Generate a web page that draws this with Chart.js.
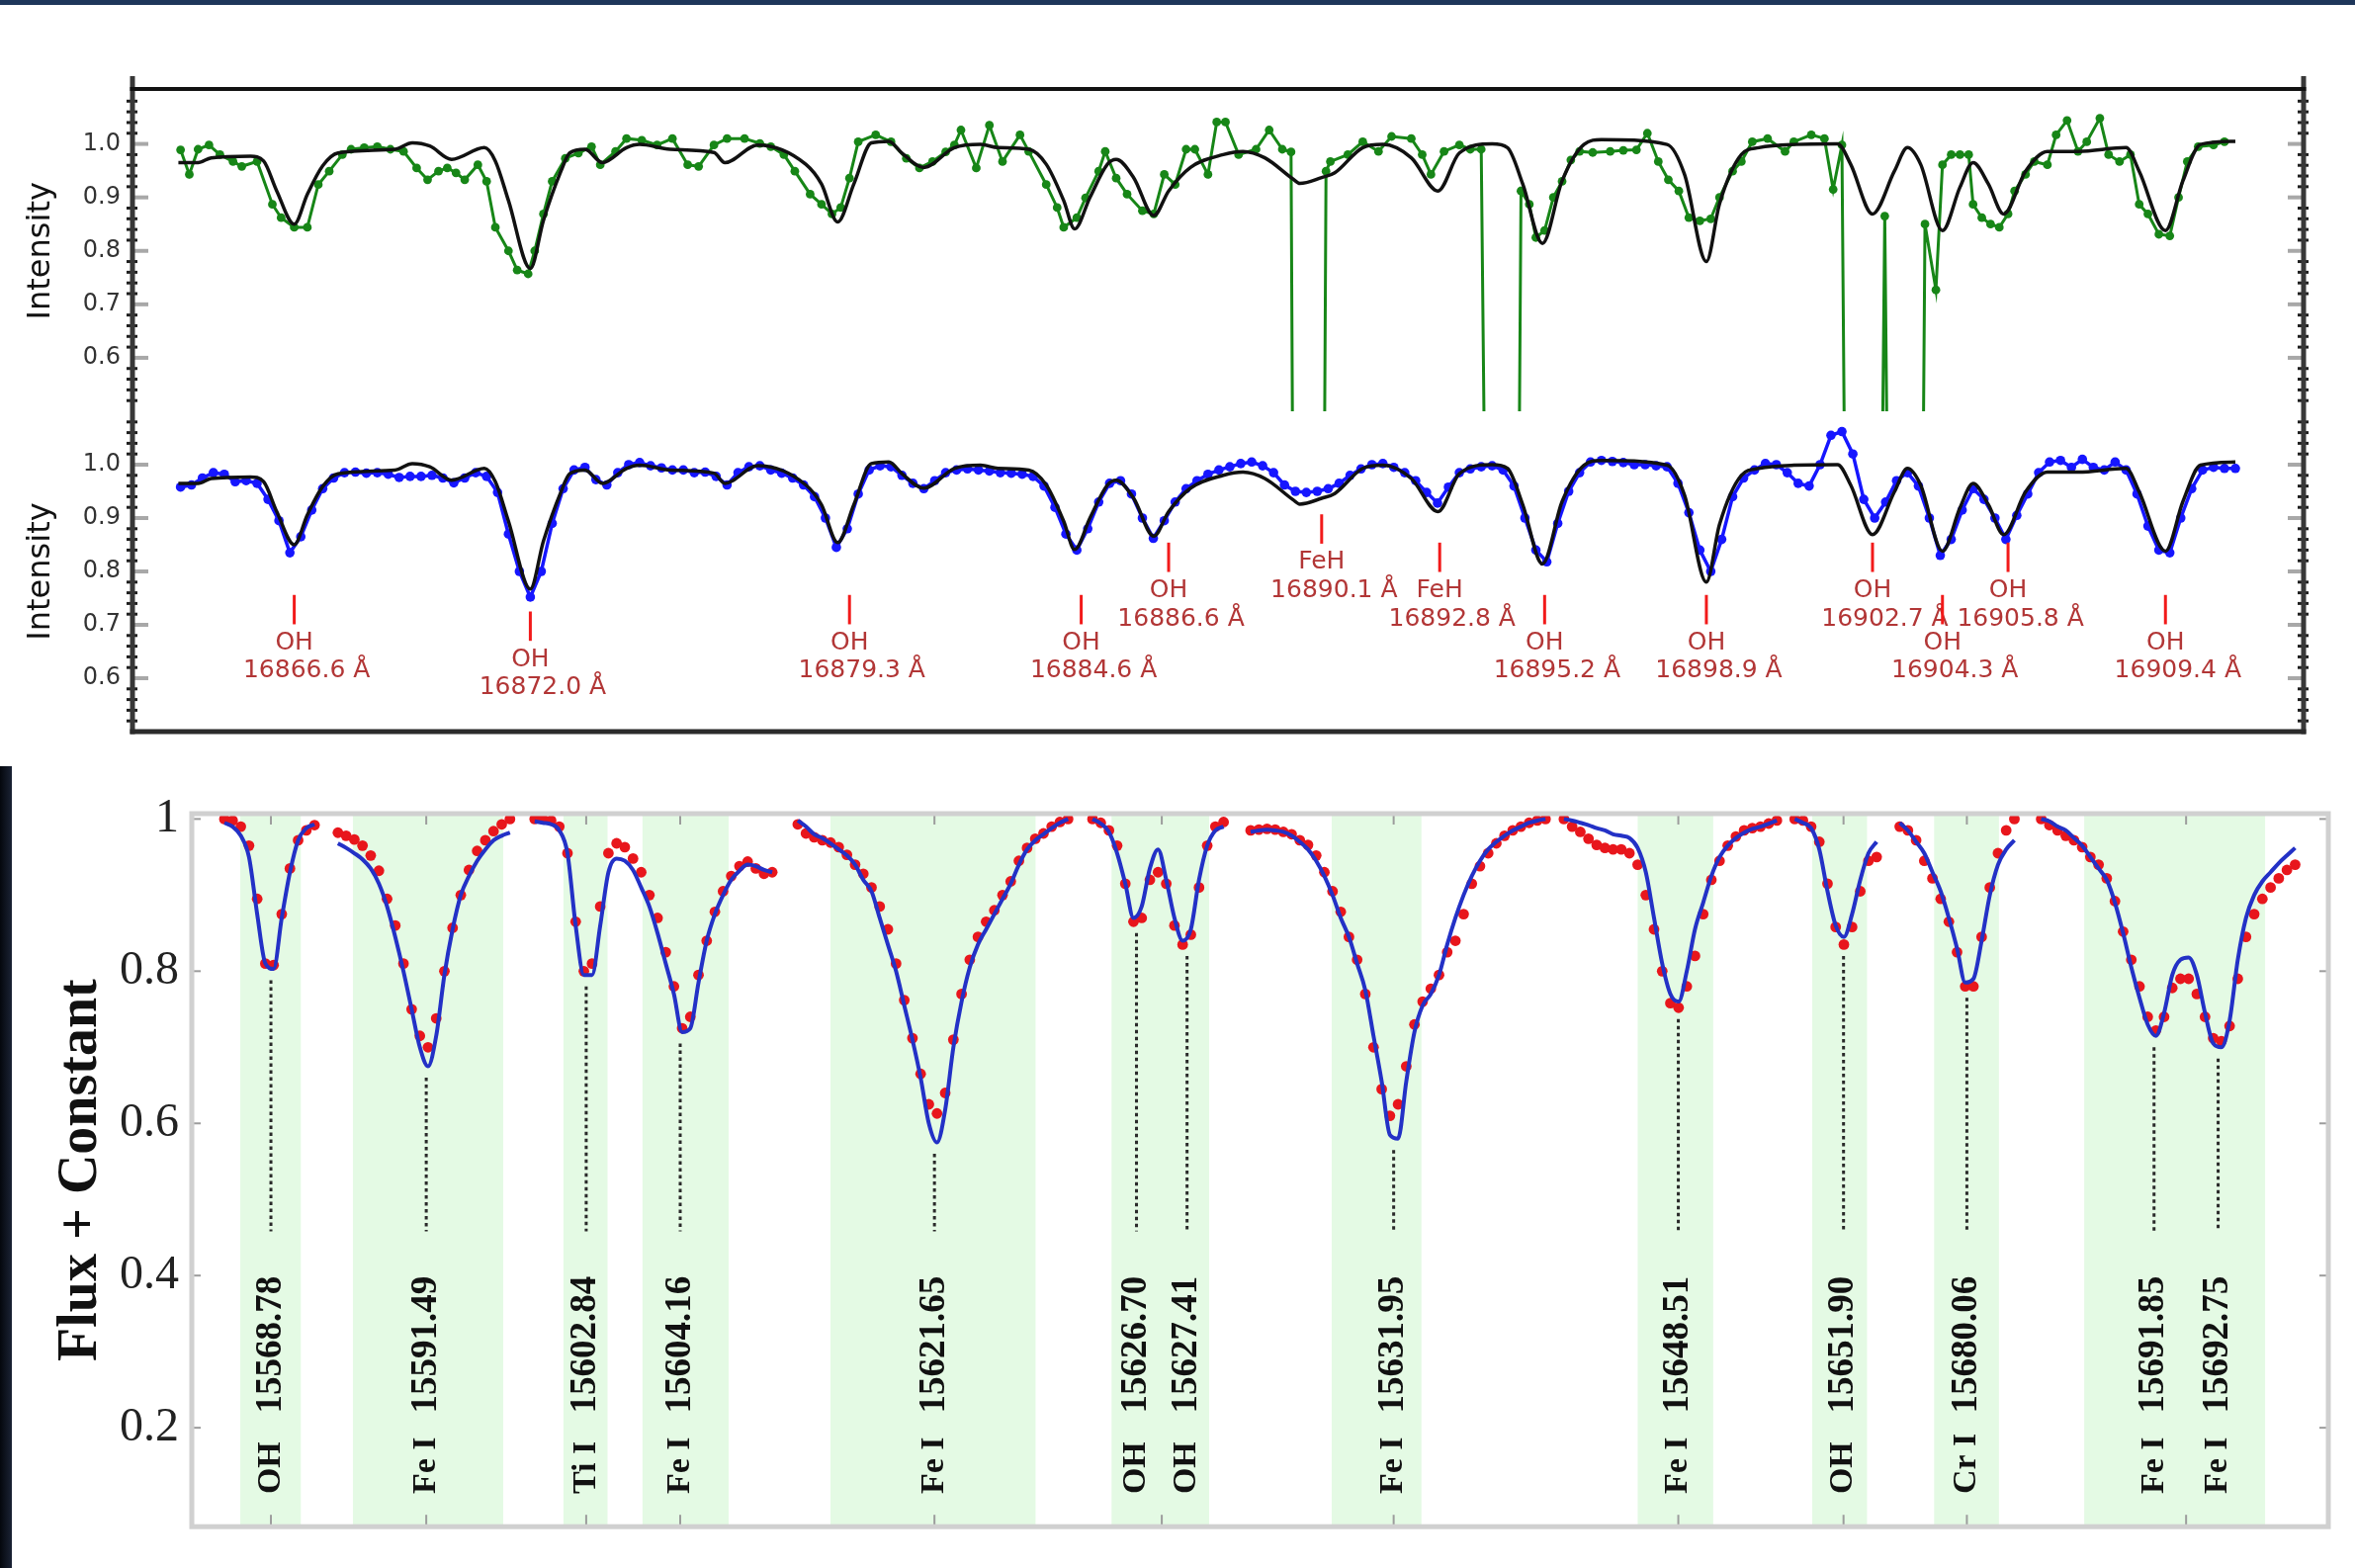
<!DOCTYPE html>
<html>
<head>
<meta charset="utf-8">
<script src="https://cdn.jsdelivr.net/npm/chart.js@4.4.1/dist/chart.umd.min.js"></script>
<style>
  html, body { margin: 0; padding: 0; background: #fff; }
  #page { position: relative; width: 2382px; height: 1586px; overflow: hidden; background: #fff; }
  #page canvas { position: absolute; left: 0; top: 0; }
  .topband { position: absolute; left: 0; top: 0; width: 2382px; height: 5px; background: #1e365a; }
  .edge { position: absolute; left: 0; top: 775px; width: 12px; height: 811px; background: linear-gradient(90deg, #04070d, #1b2335); }
</style>
</head>
<body>
<div id="page">
  <div class="topband"></div>
  <div class="edge"></div>
  <canvas id="upper" width="2382" height="1586"></canvas>
  <canvas id="lower" width="2382" height="1586"></canvas>
  <canvas id="windows" width="2382" height="1586"></canvas>
</div>
<script>
// ================= 16864–16911 Å spectra =================
// synthetic fit shown in both upper panels: [wavelength Å, intensity]
const modelPoints = [
  [16863.95,0.965],[16864.4,0.965],[16864.7,0.974],[16865.6,0.977],[16865.9,0.968],[16866.2,0.912],
  [16866.6,0.85],[16866.9,0.906],[16867.25,0.959],[16867.6,0.983],[16868.9,0.99],[16869.3,1.002],
  [16869.7,0.996],[16870.2,0.971],[16870.95,0.993],[16871.2,0.968],[16871.5,0.894],[16872.0,0.767],
  [16872.3,0.857],[16872.7,0.949],[16872.9,0.983],[16873.25,0.99],[16873.65,0.965],[16874.2,0.993],
  [16874.5,0.999],[16875.2,0.99],[16876.2,0.984],[16876.45,0.965],[16877.2,0.998],[16878.3,0.962],
  [16878.66,0.925],[16879.03,0.854],[16879.4,0.925],[16879.8,1.002],[16880.2,1.005],[16880.5,0.983],
  [16881.0,0.956],[16881.7,0.993],[16882.3,0.999],[16882.7,0.993],[16883.4,0.99],[16883.8,0.962],
  [16884.2,0.894],[16884.45,0.841],[16884.8,0.9],[16885.2,0.962],[16885.4,0.971],[16885.8,0.937],
  [16886.26,0.866],[16886.6,0.912],[16887.1,0.956],[16887.85,0.98],[16888.3,0.986],[16888.8,0.974],
  [16889.45,0.934],[16889.6,0.926],[16890.1,0.937],[16890.4,0.946],[16891.04,0.993],[16891.5,0.999],
  [16892.15,0.974],[16892.76,0.912],[16893.25,0.983],[16894.0,1.0],[16894.35,0.993],[16894.7,0.925],
  [16895.15,0.814],[16895.6,0.931],[16896.1,0.999],[16896.5,1.008],[16898.0,0.999],[16898.4,0.943],
  [16898.9,0.78],[16899.2,0.888],[16899.7,0.98],[16900.1,0.993],[16900.9,0.999],[16901.9,1.0],
  [16902.2,0.962],[16902.7,0.869],[16903.2,0.949],[16903.5,0.993],[16903.8,0.962],[16904.3,0.838],
  [16904.7,0.919],[16905.0,0.965],[16905.35,0.925],[16905.7,0.869],[16906.2,0.949],[16906.7,0.986],
  [16907.4,0.986],[16908.5,0.993],[16908.8,0.949],[16909.4,0.838],[16909.8,0.931],[16910.2,0.999],
  [16911.0,1.005]
];

// observed spectrum, upper panel (the 0.2 entries are bad pixels that drop off the panel)
const greenPoints = [
  [16864.0,0.989],[16864.2,0.943],[16864.4,0.99],[16864.65,0.998],[16864.9,0.98],[16865.2,0.967],
  [16865.4,0.958],[16865.75,0.967],[16866.1,0.887],[16866.3,0.862],[16866.6,0.844],[16866.9,0.844],
  [16867.15,0.924],[16867.4,0.949],[16867.7,0.98],[16867.9,0.99],[16868.2,0.993],[16868.5,0.995],
  [16868.8,0.99],[16869.1,0.986],[16869.4,0.955],[16869.65,0.933],[16869.9,0.949],[16870.1,0.955],
  [16870.3,0.946],[16870.5,0.933],[16870.8,0.961],[16871.0,0.93],[16871.2,0.844],[16871.5,0.8],
  [16871.7,0.764],[16871.95,0.757],[16872.1,0.8],[16872.3,0.869],[16872.5,0.93],[16872.8,0.973],
  [16873.1,0.983],[16873.4,0.995],[16873.6,0.961],[16873.95,0.986],[16874.2,1.01],[16874.55,1.007],
  [16874.9,0.998],[16875.25,1.01],[16875.6,0.961],[16875.85,0.958],[16876.2,0.998],[16876.5,1.01],
  [16876.9,1.01],[16877.25,1.001],[16877.5,0.995],[16877.8,0.98],[16878.05,0.949],[16878.4,0.906],
  [16878.66,0.887],[16878.9,0.869],[16879.1,0.881],[16879.3,0.936],[16879.5,1.004],[16879.9,1.017],
  [16880.25,1.004],[16880.6,0.973],[16880.9,0.955],[16881.2,0.967],[16881.5,0.985],[16881.7,0.998],
  [16881.85,1.026],[16882.2,0.955],[16882.5,1.035],[16882.8,0.967],[16883.2,1.017],[16883.4,0.986],
  [16883.8,0.924],[16884.05,0.881],[16884.2,0.844],[16884.5,0.862],[16884.7,0.899],[16885.0,0.949],
  [16885.15,0.986],[16885.4,0.936],[16885.65,0.906],[16886.0,0.875],[16886.26,0.869],[16886.5,0.943],
  [16886.75,0.924],[16887.0,0.99],[16887.2,0.99],[16887.5,0.943],[16887.7,1.041],[16887.9,1.041],
  [16888.2,0.98],[16888.6,0.99],[16888.9,1.026],[16889.2,0.99],[16889.4,0.985],[16889.45,0.2],
  [16890.15,0.2],[16890.2,0.949],[16890.3,0.967],[16890.7,0.98],[16891.04,1.004],[16891.4,0.986],
  [16891.7,1.014],[16892.15,1.01],[16892.4,0.98],[16892.6,0.943],[16892.9,0.986],[16893.25,0.998],
  [16893.5,0.99],[16893.75,0.99],[16893.85,0.2],[16894.6,0.2],[16894.66,0.912],[16894.85,0.887],
  [16895.0,0.825],[16895.2,0.838],[16895.4,0.9],[16895.6,0.93],[16895.8,0.97],[16896.0,0.986],
  [16896.3,0.984],[16896.7,0.986],[16897.0,0.988],[16897.3,0.989],[16897.55,1.02],[16897.8,0.967],
  [16898.03,0.933],[16898.27,0.912],[16898.5,0.862],[16898.75,0.856],[16899.0,0.86],[16899.2,0.9],
  [16899.5,0.949],[16899.7,0.967],[16899.95,1.004],[16900.3,1.01],[16900.7,0.986],[16900.9,1.004],
  [16901.3,1.017],[16901.6,1.01],[16901.8,0.915],[16902.0,0.998],[16902.08,0.2],[16902.9,0.2],
  [16902.98,0.865],[16903.06,0.2],[16903.84,0.2],[16903.9,0.85],[16904.15,0.727],[16904.3,0.961],
  [16904.5,0.98],[16904.7,0.98],[16904.9,0.98],[16905.0,0.887],[16905.2,0.862],[16905.4,0.85],
  [16905.6,0.844],[16905.8,0.869],[16905.95,0.912],[16906.2,0.943],[16906.4,0.967],[16906.7,0.961],
  [16906.9,1.017],[16907.15,1.044],[16907.4,0.986],[16907.6,1.004],[16907.9,1.048],[16908.1,0.98],
  [16908.35,0.967],[16908.6,0.98],[16908.8,0.887],[16909.0,0.869],[16909.25,0.831],[16909.5,0.828],
  [16909.7,0.9],[16909.9,0.967],[16910.15,0.995],[16910.5,0.998],[16910.75,1.004]
];

// observed spectrum, lower panel: pixels every 0.25 Å from 16864.00 Å
const blueStart = 16864.0;
const blueStep = 0.25;
const blueFlux = [
  0.958,0.962,0.975,0.985,0.982,0.968,0.97,0.965,
  0.935,0.895,0.835,0.865,0.915,0.955,0.975,0.985,
  0.986,0.984,0.985,0.982,0.976,0.978,0.978,0.98,
  0.975,0.966,0.975,0.985,0.978,0.948,0.87,0.8,
  0.752,0.8,0.89,0.955,0.99,0.995,0.972,0.962,
  0.985,1.0,1.004,0.998,0.994,0.99,0.99,0.985,
  0.986,0.978,0.962,0.985,0.996,0.998,0.99,0.984,
  0.975,0.962,0.94,0.9,0.845,0.88,0.945,0.99,
  0.998,0.996,0.98,0.965,0.955,0.97,0.985,0.99,
  0.992,0.99,0.988,0.985,0.984,0.982,0.978,0.96,
  0.92,0.87,0.84,0.88,0.93,0.965,0.97,0.945,
  0.9,0.862,0.895,0.93,0.955,0.97,0.982,0.99,
  0.996,1.002,1.005,0.998,0.985,0.962,0.95,0.948,
  0.95,0.955,0.965,0.98,0.992,1.0,1.002,0.995,
  0.985,0.97,0.948,0.928,0.958,0.985,0.992,0.996,
  0.998,0.99,0.96,0.9,0.84,0.818,0.89,0.95,
  0.985,1.005,1.008,1.006,1.004,1.0,1.0,0.998,
  0.996,0.965,0.91,0.84,0.80,0.86,0.94,0.975,
  0.99,1.002,1.0,0.985,0.965,0.96,1.0,1.055,
  1.062,1.02,0.935,0.9,0.93,0.97,0.985,0.96,
  0.9,0.83,0.86,0.915,0.955,0.935,0.9,0.86,
  0.905,0.945,0.985,1.005,1.008,0.995,1.01,0.995,
  0.99,1.005,0.99,0.945,0.885,0.84,0.835,0.9,
  0.955,0.99,0.995,0.993,0.993
];

// identified lines in the lower panel
const idWave = [16866.6, 16872.0, 16879.3, 16884.6, 16886.6, 16890.1, 16892.8, 16895.2, 16898.9, 16902.7, 16904.3, 16905.8, 16909.4];
const idSpecies = ['OH', 'OH', 'OH', 'OH', 'OH', 'FeH', 'FeH', 'OH', 'OH', 'OH', 'OH', 'OH', 'OH'];
// intensity at which each marker starts (label rows are staggered)
const idMarkerTop = [0.756, 0.725, 0.756, 0.756, 0.854, 0.907, 0.854, 0.756, 0.756, 0.854, 0.756, 0.854, 0.756];
const intensityTicks = [0.6, 0.7, 0.8, 0.9, 1.0];

// ================= spectral windows, 15568–15694 Å =================
const winWaveStart = [15568.127, 15590.250, 15602.117, 15619.731, 15626.083, 15629.942, 15646.904, 15651.215, 15679.117, 15690.266];
const winAxisStart = [0.458, 2.052, 4.815, 8.509, 12.648, 14.868, 19.267, 22.508, 23.982, 25.969];
const winStep = 0.115;
// observed flux (red points) per window
const obsFlux = [
  [1.0,0.998,0.99,0.965,0.895,0.81,0.808,0.875,0.935,0.972,0.985,0.992],
  [0.982,0.978,0.973,0.965,0.952,0.932,0.895,0.86,0.81,0.75,0.715,0.70,0.738,0.8,0.857,0.9,0.933,0.958,0.972,0.984,0.993,1.0],
  [1.0,1.0,0.998,0.99,0.955,0.865,0.80,0.81,0.885,0.955,0.968,0.963,0.948,0.93,0.9,0.87,0.825,0.78,0.725,0.74,0.795,0.84,0.878,0.905,0.925,0.938,0.944,0.935,0.928,0.93],
  [0.993,0.981,0.976,0.972,0.969,0.963,0.953,0.94,0.928,0.91,0.885,0.855,0.81,0.762,0.712,0.665,0.625,0.613,0.64,0.71,0.77,0.815,0.845,0.865,0.88,0.9,0.918,0.945,0.962,0.974,0.981,0.99,0.996,1.0],
  [1.0,0.995,0.985,0.965,0.915,0.865,0.87,0.92,0.93,0.915,0.86,0.835,0.848,0.91,0.965,0.99,0.996],
  [0.985,0.986,0.987,0.986,0.983,0.98,0.972,0.966,0.952,0.93,0.905,0.878,0.845,0.815,0.77,0.7,0.645,0.61,0.625,0.675,0.73,0.76,0.777,0.795,0.825,0.84,0.875,0.915,0.938,0.955,0.968,0.978,0.985,0.99,0.995,0.998,1.0],
  [1.0,0.99,0.983,0.974,0.966,0.962,0.96,0.96,0.955,0.94,0.9,0.855,0.8,0.758,0.752,0.78,0.82,0.875,0.92,0.945,0.965,0.977,0.985,0.988,0.99,0.994,0.998],
  [1.0,0.998,0.99,0.97,0.915,0.858,0.835,0.858,0.905,0.945,0.95],
  [0.99,0.985,0.972,0.945,0.922,0.895,0.865,0.825,0.78,0.78,0.845,0.91,0.955,0.985,1.0],
  [1.0,0.992,0.985,0.978,0.972,0.963,0.95,0.94,0.922,0.892,0.852,0.815,0.78,0.74,0.722,0.74,0.778,0.79,0.79,0.77,0.74,0.712,0.708,0.728,0.79,0.845,0.875,0.895,0.91,0.922,0.933,0.94]
];
// best-fit synthetic flux (blue curve) per window
const fitFlux = [
  [0.995,0.99,0.978,0.95,0.875,0.81,0.803,0.87,0.93,0.972,0.988,0.993],
  [0.968,0.962,0.955,0.947,0.935,0.915,0.885,0.845,0.80,0.75,0.70,0.675,0.715,0.795,0.855,0.9,0.925,0.945,0.96,0.972,0.978,0.982],
  [0.997,0.995,0.993,0.985,0.955,0.86,0.795,0.795,0.86,0.93,0.948,0.945,0.933,0.91,0.885,0.85,0.81,0.77,0.72,0.725,0.785,0.84,0.875,0.9,0.92,0.932,0.94,0.938,0.933,0.93],
  [0.998,0.99,0.98,0.975,0.968,0.96,0.952,0.94,0.92,0.905,0.87,0.835,0.8,0.755,0.71,0.66,0.6,0.575,0.618,0.7,0.76,0.805,0.835,0.855,0.875,0.895,0.915,0.94,0.96,0.972,0.98,0.988,0.995,1.0],
  [1.0,0.994,0.983,0.955,0.915,0.87,0.885,0.935,0.96,0.92,0.87,0.84,0.855,0.92,0.965,0.985,0.99],
  [0.983,0.985,0.986,0.985,0.983,0.978,0.97,0.96,0.945,0.925,0.9,0.87,0.845,0.81,0.775,0.715,0.655,0.585,0.58,0.655,0.72,0.755,0.77,0.795,0.835,0.87,0.9,0.925,0.945,0.96,0.97,0.978,0.985,0.99,0.995,0.998,1.0],
  [1.0,0.998,0.995,0.992,0.988,0.985,0.98,0.978,0.975,0.962,0.93,0.87,0.81,0.77,0.76,0.8,0.855,0.89,0.925,0.95,0.965,0.975,0.982,0.987,0.99,0.994,0.998],
  [1.0,0.995,0.988,0.96,0.905,0.86,0.845,0.875,0.92,0.955,0.97],
  [0.995,0.985,0.97,0.955,0.93,0.905,0.87,0.83,0.785,0.79,0.84,0.9,0.94,0.96,0.972],
  [1.0,0.997,0.99,0.985,0.975,0.965,0.95,0.935,0.92,0.89,0.85,0.805,0.765,0.73,0.715,0.745,0.795,0.815,0.818,0.795,0.745,0.705,0.7,0.735,0.815,0.87,0.9,0.918,0.93,0.942,0.952,0.962]
];
const lineWave = [15568.78, 15591.49, 15602.84, 15604.16, 15621.65, 15626.70, 15627.41, 15631.95, 15648.51, 15651.90, 15680.06, 15691.85, 15692.75];
const lineSpecies = ['OH', 'Fe I', 'Ti I', 'Fe I', 'Fe I', 'OH', 'OH', 'Fe I', 'Fe I', 'OH', 'Cr I', 'Fe I', 'Fe I'];
const lineWindow = [0, 1, 2, 2, 3, 4, 4, 5, 6, 7, 8, 9, 9];
// fitting masks (shaded), wavelength ranges inside each window
const maskWindow = [0, 1, 2, 2, 3, 4, 5, 6, 7, 8, 9];
const maskStart = [15568.35, 15590.46, 15602.52, 15603.63, 15620.19, 15626.35, 15631.08, 15647.94, 15651.46, 15679.60, 15690.87];
const maskEnd   = [15569.20, 15592.57, 15603.14, 15604.84, 15623.07, 15627.72, 15632.34, 15649.00, 15652.23, 15680.51, 15693.41];
const fluxTicks = [0.2, 0.4, 0.6, 0.8, 1];

// ================= drawing =================
const W = 2382, H = 1586;
const AX_L = 134, AX_R = 2330;           // spines of the two stacked panels
const toAxis = (w, lam) => winAxisStart[w] + (lam - winWaveStart[w]);

function spines(chart, spineTop, withTopLine, withBottomLine) {
  const { ctx, chartArea: a, scales: { y } } = chart;
  ctx.save();
  ctx.lineCap = 'butt';
  // major ticks (inward, grey)
  ctx.strokeStyle = '#a8a8a8'; ctx.lineWidth = 4;
  intensityTicks.forEach(v => {
    const py = y.getPixelForValue(v);
    ctx.beginPath(); ctx.moveTo(AX_L + 2, py); ctx.lineTo(AX_L + 16, py); ctx.stroke();
    ctx.beginPath(); ctx.moveTo(AX_R - 16, py); ctx.lineTo(AX_R - 2, py); ctx.stroke();
  });
  // minor ticks every 0.02
  ctx.strokeStyle = '#1e1e1e'; ctx.lineWidth = 3;
  for (let k = 26; k <= 54; k++) {
    if (k % 5 === 0) continue;
    const py = y.getPixelForValue(k * 0.02);
    ctx.beginPath(); ctx.moveTo(AX_L - 6, py); ctx.lineTo(AX_L + 5, py); ctx.stroke();
    ctx.beginPath(); ctx.moveTo(AX_R - 6, py); ctx.lineTo(AX_R + 5, py); ctx.stroke();
  }
  // spines
  ctx.strokeStyle = '#383838'; ctx.lineWidth = 5;
  const yb = withBottomLine ? a.bottom + 2.5 : a.bottom;
  ctx.beginPath(); ctx.moveTo(AX_L, spineTop); ctx.lineTo(AX_L, yb); ctx.stroke();
  ctx.beginPath(); ctx.moveTo(AX_R, spineTop); ctx.lineTo(AX_R, yb); ctx.stroke();
  if (withTopLine) {
    ctx.strokeStyle = '#111'; ctx.lineWidth = 4;
    ctx.beginPath(); ctx.moveTo(AX_L - 2.5, a.top - 1.5); ctx.lineTo(AX_R + 2.5, a.top - 1.5); ctx.stroke();
  }
  if (withBottomLine) {
    ctx.strokeStyle = '#2b2b2b'; ctx.lineWidth = 5;
    ctx.beginPath(); ctx.moveTo(AX_L - 2.5, a.bottom); ctx.lineTo(AX_R + 2.5, a.bottom); ctx.stroke();
  }
  ctx.restore();
}

function intensityScales(titleText) {
  return {
    x: { type: 'linear', min: 16862.9, max: 16912.56, display: false },
    y: {
      min: 0.5, max: 1.1,
      afterFit: s => { s.width = AX_L; },
      afterBuildTicks: s => { s.ticks = intensityTicks.map(v => ({ value: v })); },
      grid: { display: false, drawTicks: false },
      border: { display: false },
      ticks: { padding: 12, color: '#333', font: { family: 'DejaVu Sans', size: 24 }, callback: v => Number(v).toFixed(1) },
      title: { display: true, text: titleText, color: '#111', font: { family: 'DejaVu Sans', size: 32 }, padding: { top: 22, bottom: 0 } }
    }
  };
}

const modelData = modelPoints.map(([x, y]) => ({ x, y }));
const baseOpts = { responsive: false, animation: false, events: [], plugins: { legend: { display: false }, tooltip: { enabled: false } } };

// upper panel
new Chart(document.getElementById('upper'), {
  type: 'line',
  data: { datasets: [
    { data: modelData, borderColor: '#111', borderWidth: 3.5, pointRadius: 0, cubicInterpolationMode: 'monotone', order: 0 },
    { data: greenPoints.map(([x, y]) => ({ x, y })), borderColor: '#178617', borderWidth: 3,
      pointRadius: 4.4, pointBackgroundColor: '#178617', pointBorderWidth: 0, order: 1 }
  ] },
  options: Object.assign({}, baseOpts, {
    layout: { padding: { left: 0, right: W - AX_R, top: 91.5, bottom: H - 416 } },
    scales: intensityScales('Intensity')
  }),
  plugins: [{ id: 'frameUpper', afterDraw: c => spines(c, 77, true, false) }]
});

// lower panel with line identifications
new Chart(document.getElementById('lower'), {
  type: 'line',
  data: { datasets: [
    { data: modelData, borderColor: '#111', borderWidth: 3.5, pointRadius: 0, cubicInterpolationMode: 'monotone', order: 0 },
    { data: blueFlux.map((y, i) => ({ x: blueStart + i * blueStep, y })), borderColor: '#1616ff', borderWidth: 3.5,
      pointRadius: 4.8, pointBackgroundColor: '#1616ff', pointBorderWidth: 0, order: 1 }
  ] },
  options: Object.assign({}, baseOpts, {
    layout: { padding: { left: 0, right: W - AX_R, top: 416, bottom: H - 740 } },
    scales: intensityScales('Intensity')
  }),
  plugins: [{
    id: 'lineIds',
    afterDatasetsDraw(c) {
      const { ctx, scales: { x, y } } = c;
      ctx.save();
      ctx.font = '25px "DejaVu Sans"';
      ctx.textBaseline = 'middle';
      idWave.forEach((w, i) => {
        const px = x.getPixelForValue(w);
        const t = idMarkerTop[i];
        ctx.strokeStyle = '#f21a1a'; ctx.lineWidth = 3;
        ctx.beginPath(); ctx.moveTo(px, y.getPixelForValue(t)); ctx.lineTo(px, y.getPixelForValue(t - 0.055)); ctx.stroke();
        ctx.fillStyle = '#b23636';
        ctx.textAlign = 'center';
        ctx.fillText(idSpecies[i], px, y.getPixelForValue(t - 0.09));
        const num = w.toFixed(1);
        const nw = ctx.measureText(num).width;
        ctx.textAlign = 'left';
        ctx.fillText(num + ' \u00C5', px - nw / 2, y.getPixelForValue(t - 0.143));
      });
      ctx.restore();
    },
    afterDraw: c => spines(c, c.chartArea.top, false, true)
  }]
});

// spectral windows panel
const winSets = [];
obsFlux.forEach((flux, w) => {
  winSets.push({ data: flux.map((y, i) => ({ x: winAxisStart[w] + i * winStep, y })), showLine: false,
    pointRadius: 5.4, pointBackgroundColor: '#e8161c', pointBorderWidth: 0, order: 1 });
  winSets.push({ data: fitFlux[w].map((y, i) => ({ x: winAxisStart[w] + i * winStep, y })), borderColor: '#2331c6',
    borderWidth: 4, pointRadius: 0, cubicInterpolationMode: 'monotone', order: 0 });
});

new Chart(document.getElementById('windows'), {
  type: 'line',
  data: { datasets: winSets },
  options: Object.assign({}, baseOpts, {
    layout: { padding: { left: 0, right: W - 2355, top: 823, bottom: H - 1560 } },
    scales: {
      x: { type: 'linear', min: 0, max: 30, display: false },
      y: {
        min: 0.07, max: 1.007,
        afterFit: s => { s.width = 194; },
        afterBuildTicks: s => { s.ticks = fluxTicks.map(v => ({ value: v })); },
        grid: { display: false, drawTicks: false },
        border: { display: false },
        ticks: { padding: 13, color: '#222', font: { family: 'Liberation Serif', size: 48 }, callback: v => String(v) },
        title: { display: true, text: 'Flux + Constant', color: '#111',
          font: { family: 'Liberation Serif', size: 56, weight: 'bold' }, padding: { top: 49, bottom: 0 } }
      }
    }
  }),
  plugins: [{
    id: 'windowDecor',
    beforeDatasetsDraw(c) {
      const { ctx, chartArea: a, scales: { x } } = c;
      ctx.save();
      ctx.fillStyle = 'rgb(228,250,228)';
      maskWindow.forEach((w, i) => {
        const x0 = x.getPixelForValue(toAxis(w, maskStart[i]));
        const x1 = x.getPixelForValue(toAxis(w, maskEnd[i]));
        ctx.fillRect(x0, a.top, x1 - x0, a.bottom - a.top);
      });
      ctx.restore();
    },
    afterDatasetsDraw(c) {
      const { ctx, scales: { x, y } } = c;
      ctx.save();
      lineWave.forEach((lam, k) => {
        const w = lineWindow[k];
        const px = x.getPixelForValue(toAxis(w, lam));
        // dotted marker starts just under the deepest point near the line centre
        const ic = (lam - winWaveStart[w]) / winStep;
        let lo = Infinity;
        for (let i = Math.floor(ic) - 1; i <= Math.ceil(ic) + 1; i++) {
          if (obsFlux[w][i] !== undefined) lo = Math.min(lo, obsFlux[w][i], fitFlux[w][i]);
        }
        ctx.strokeStyle = '#2a2a2a'; ctx.lineWidth = 3; ctx.setLineDash([3.5, 3.5]);
        ctx.beginPath(); ctx.moveTo(px, y.getPixelForValue(lo - 0.015)); ctx.lineTo(px, y.getPixelForValue(0.458)); ctx.stroke();
        ctx.setLineDash([]);
        // rotated identification: species near the bottom, wavelength above it
        ctx.fillStyle = '#111';
        ctx.textAlign = 'left'; ctx.textBaseline = 'middle';
        ctx.save();
        ctx.font = 'bold 34px "Liberation Serif"';
        ctx.translate(px, y.getPixelForValue(0.113)); ctx.rotate(-Math.PI / 2);
        ctx.fillText(lineSpecies[k], 0, 0);
        ctx.restore();
        ctx.save();
        ctx.font = 'bold 37px "Liberation Serif"';
        ctx.translate(px, y.getPixelForValue(0.219)); ctx.rotate(-Math.PI / 2);
        ctx.fillText(lam.toFixed(2), 0, 0);
        ctx.restore();
      });
      ctx.restore();
    },
    afterDraw(c) {
      const { ctx, chartArea: a, scales: { x, y } } = c;
      ctx.save();
      // tick marks: one per line, close pairs share a tick
      const tickPos = [];
      lineWave.forEach((lam, k) => {
        const w = lineWindow[k];
        const nxt = lineWindow[k + 1] === w ? lineWave[k + 1] : null;
        const prv = lineWindow[k - 1] === w ? lineWave[k - 1] : null;
        if (nxt !== null && nxt - lam < 1) tickPos.push(toAxis(w, (lam + nxt) / 2));
        else if (prv !== null && lam - prv < 1) { /* shared with previous */ }
        else tickPos.push(toAxis(w, lam));
      });
      ctx.strokeStyle = '#9c9c9c'; ctx.lineWidth = 2;
      tickPos.forEach(p => {
        const px = x.getPixelForValue(p);
        ctx.beginPath(); ctx.moveTo(px, a.top); ctx.lineTo(px, a.top + 11); ctx.stroke();
        ctx.beginPath(); ctx.moveTo(px, a.bottom - 12); ctx.lineTo(px, a.bottom); ctx.stroke();
      });
      fluxTicks.forEach(v => {
        const py = y.getPixelForValue(v);
        ctx.beginPath(); ctx.moveTo(a.left, py); ctx.lineTo(a.left + 9, py); ctx.stroke();
        ctx.beginPath(); ctx.moveTo(a.right - 9, py); ctx.lineTo(a.right, py); ctx.stroke();
      });
      ctx.strokeStyle = '#d0d0d0'; ctx.lineWidth = 5;
      ctx.strokeRect(a.left, a.top, a.right - a.left, a.bottom - a.top);
      ctx.restore();
    }
  }]
});
</script>
</body>
</html>
